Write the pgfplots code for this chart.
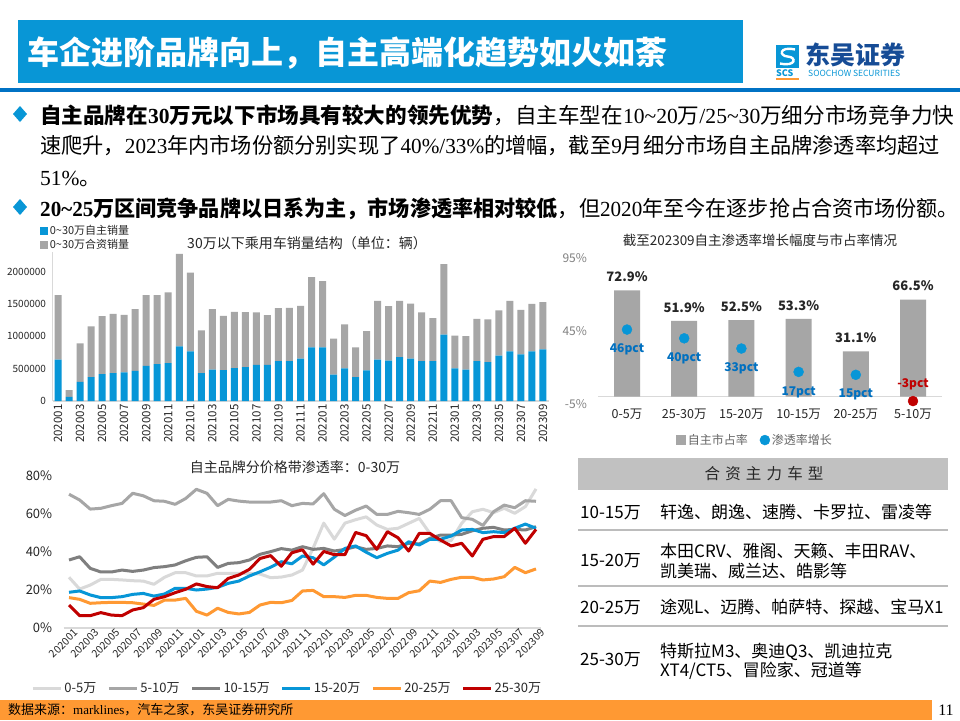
\documentclass[border=0pt]{standalone}
\usepackage{fontspec}
\setmainfont{Noto Sans CJK SC}
\newfontfamily\serif{Liberation Serif}
\usepackage{graphicx}
\usepackage{pgfplots}
\usepackage{pgfplotstable}
\pgfplotsset{compat=1.18}
\pgfplotsset{/pgf/number format/assume math mode=true}
\newcommand{\fs}[1]{\fontsize{#1}{#1}\selectfont}
\newcommand{\sn}[1]{{\serif #1}}
\definecolor{titleblue}{RGB}{8,150,214}
\definecolor{lineblue}{RGB}{0,114,196}
\definecolor{cblue}{RGB}{7,150,215}
\definecolor{cgray}{RGB}{166,166,166}
\definecolor{lgray}{RGB}{217,217,217}
\definecolor{dgray}{RGB}{127,127,127}
\definecolor{corange}{RGB}{255,153,51}
\definecolor{cred}{RGB}{192,0,0}
\definecolor{pblue}{RGB}{0,112,192}
\definecolor{txt}{RGB}{38,38,38}
\definecolor{axisgray}{RGB}{217,217,217}
\definecolor{logodark}{RGB}{22,76,150}
\definecolor{band}{RGB}{255,153,51}

\pgfplotstableread{
i blue gray
0 641000 995000
1 62000 107000
2 297000 595000
3 369000 785000
4 415000 898000
5 431000 918000
6 441000 892000
7 467000 954000
8 544000 1092000
9 569000 1067000
10 585000 1097000
11 846000 1431000
12 769000 1216000
13 431000 661000
14 487000 934000
15 477000 841000
16 508000 871000
17 523000 851000
18 559000 810000
19 559000 769000
20 615000 821000
21 615000 826000
22 656000 816000
23 831000 1087000
24 831000 1025000
25 410000 554000
26 503000 682000
27 369000 462000
28 472000 610000
29 641000 908000
30 626000 841000
31 677000 872000
32 656000 852000
33 615000 754000
34 615000 667000
35 1026000 1092000
36 503000 507000
37 487000 518000
38 615000 657000
39 600000 662000
40 703000 697000
41 769000 780000
42 723000 687000
43 769000 734000
44 800000 728000
}\bardata

\pgfplotstableread{
i c0 c1 c2 c3 c4 c5
0 26.7 70.4 35.8 18.8 16.0 12.1
1 20.5 67.4 37.5 19.5 15.1 6.5
2 22.6 62.6 31.4 17.4 13.0 6.5
3 25.6 63.0 29.5 16.0 13.3 8.1
4 25.6 64.4 29.5 16.0 13.5 6.8
5 25.3 65.6 30.5 16.5 13.5 6.5
6 24.9 70.9 29.8 17.7 13.3 9.5
7 24.7 69.6 30.5 18.2 12.6 10.7
8 23.0 67.0 31.8 16.8 11.9 15.1
9 26.7 66.7 32.3 17.9 14.7 16.5
10 29.1 65.1 33.2 20.9 14.7 18.6
11 29.1 68.2 35.4 20.9 15.6 20.4
12 27.4 73.0 37.2 20.0 8.8 23.2
13 27.4 70.9 37.5 20.5 6.8 21.8
14 28.8 64.4 31.9 21.4 10.4 21.2
15 28.8 67.7 34.0 23.5 8.2 26.1
16 28.8 66.8 34.4 24.7 7.4 27.9
17 28.8 66.3 35.8 27.4 8.2 30.9
18 28.4 66.3 38.8 29.6 12.1 36.6
19 26.5 66.3 40.2 32.0 13.5 38.1
20 26.8 67.0 41.8 34.9 13.3 32.5
21 27.9 64.4 41.0 33.8 14.5 39.6
22 30.5 65.6 42.8 37.9 19.5 41.2
23 42.0 65.3 41.4 37.0 19.8 33.6
24 55.2 70.7 41.9 33.2 16.5 40.3
25 46.8 62.5 40.5 37.3 16.5 38.6
26 55.2 59.2 41.4 41.9 16.1 38.6
27 57.0 62.0 42.8 43.2 17.2 50.3
28 58.5 64.2 41.4 39.9 17.2 48.6
29 54.2 59.8 41.9 37.0 16.1 41.4
30 51.9 59.8 43.2 39.3 15.6 50.7
31 52.5 61.4 42.8 41.0 15.6 47.5
32 55.1 60.7 44.6 45.4 18.6 40.5
33 57.7 59.8 44.2 43.7 19.6 49.8
34 49.8 62.5 47.2 46.7 24.7 49.8
35 45.4 67.0 48.9 46.7 24.0 46.3
36 46.0 67.0 48.9 48.4 25.6 43.2
37 55.1 58.1 49.3 51.6 26.7 44.6
38 61.2 57.2 51.2 51.9 26.7 37.9
39 62.5 54.0 52.5 50.2 25.3 46.7
40 60.7 61.2 53.0 50.7 25.8 48.1
41 63.0 64.7 51.6 50.2 27.0 48.1
42 60.4 63.3 51.9 52.5 31.9 52.5
43 63.9 67.0 51.6 54.7 29.1 44.6
44 73.2 66.7 53.3 52.5 31.1 51.9
}\linedata

\pgfplotstableread{
x y lab
0 46 46pct
1 40 40pct
2 33 33pct
3 17 17pct
4 15 15pct
}\dotsblue

\begin{document}
\begin{tikzpicture}
\begin{scope}[x=1pt,y=-1pt]
 \fill[white] (0,0) rectangle (960,720);
 % title
 \fill[titleblue] (18,20) rectangle (743,83);
 \node[anchor=base west, text=white, font=\fs{32}\bfseries, inner sep=0] at (27,64) {车企进阶品牌向上，自主高端化趋势如火如荼};
 \fill[lineblue] (0,88) rectangle (960,91.5);
 % logo
 \fill[titleblue] (776,45) rectangle (799,68);
 \draw[white, line width=2.4pt] (795,49.5) .. controls (779,46) and (779,56) .. (787.5,56.5) .. controls (797,57) and (796,67) .. (780,63.5);
 \node[anchor=base west, font=\fs{9}\bfseries, text=titleblue, inner sep=0] at (776,76) {SCS};
 \fill[band] (776,77.5) rectangle (799,80);
 \node[anchor=base west, font=\fs{25}\bfseries, text=logodark, inner sep=0] at (805,64) {东吴证券};
 \node[anchor=base west, font=\fs{8.5}, text=titleblue, inner sep=0] at (808,76) {SOOCHOW SECURITIES};
 % bullets
 \fill[titleblue] (20,106) -- (27,114) -- (20,122) -- (13,114) -- cycle;
 \fill[titleblue] (20,199) -- (27,207) -- (20,215) -- (13,207) -- cycle;
 \node[anchor=base west, font=\fs{21.5}, inner sep=0] at (40,123) {\scalebox{1.004}[1]{{\bfseries 自主品牌在\sn{30}万元以下市场具有较大的领先优势}，自主车型在\sn{10\textasciitilde20}万\sn{/25\textasciitilde30}万细分市场竞争力快}};
 \node[anchor=base west, font=\fs{21.5}, inner sep=0] at (40,153.5) {\scalebox{0.986}[1]{速爬升，\sn{2023}年内市场份额分别实现了\sn{40\%/33\%}的增幅，截至\sn{9}月细分市场自主品牌渗透率均超过}};
 \node[anchor=base west, font=\fs{21.5}, inner sep=0] at (40,185) {\sn{51\%}。};
 \node[anchor=base west, font=\fs{21.5}, inner sep=0] at (40,216) {\scalebox{0.982}[1]{{\bfseries \sn{20\textasciitilde25}万区间竞争品牌以日系为主，市场渗透率相对较低}，但\sn{2020}年至今在逐步抢占合资市场份额。}};
 % chart titles
 \node[font=\fs{14}, text=txt] at (307,243) {30万以下乘用车销量结构（单位：辆）};
 \node[font=\fs{13.5}, text=txt] at (760,240) {截至202309自主渗透率增长幅度与市占率情况};
 \node[font=\fs{14}, text=txt] at (295,467) {自主品牌分价格带渗透率：0-30万};
 % table
 \fill[cgray!70] (578,458) rectangle (948,490);
 \node[font=\fs{15.5}, text=txt] at (764,474) {合\,\,资\,\,主\,\,力\,\,车\,\,型};
 \foreach \yy in {530,586,626} {\fill[cgray!75] (578,\yy-1) rectangle (948,\yy+1);}
 \begin{scope}[every node/.style={anchor=base west, font=\fs{17}, inner sep=0, text=black}]
 \node at (580,518) {10-15万};
 \node at (660,518) {轩逸、朗逸、速腾、卡罗拉、雷凌等};
 \node at (580,566) {15-20万};
 \node at (660,557) {本田CRV、雅阁、天籁、丰田RAV、};
 \node at (660,577) {凯美瑞、威兰达、皓影等};
 \node at (580,613) {20-25万};
 \node at (660,613) {途观L、迈腾、帕萨特、探越、宝马X1};
 \node at (580,665) {25-30万};
 \node at (660,657) {特斯拉M3、奥迪Q3、凯迪拉克};
 \node at (660,676) {XT4/CT5、冒险家、冠道等};
 \end{scope}
 % footer
 \fill[band] (0,700) rectangle (932,720);
 \node[anchor=base west, font=\fs{13}, inner sep=0] at (8,714) {数据来源：\sn{marklines}，汽车之家，东吴证券研究所};
 \node[anchor=base, font=\fs{16}\serif, inner sep=0] at (946,715) {11};
\end{scope}

% ---------- chart 1: stacked bars ----------
\begin{axis}[
 at={(52.5pt,-401pt)}, anchor=south west, scale only axis,
 width=496pt, height=148.7pt,
 xmin=-0.5, xmax=44.5, ymin=0, ymax=2300000,
 ybar stacked, bar width=7pt,
 axis x line*=bottom, axis y line*=left,
 axis line style={draw=axisgray, line width=1.3pt, -},
 major tick length=0pt,
 xtick={0,2,...,44},
 xticklabels={202001,202003,202005,202007,202009,202011,202101,202103,202105,202107,202109,202111,202201,202203,202205,202207,202209,202211,202301,202303,202305,202307,202309},
 x tick label style={rotate=90, anchor=east, font=\fs{11.5}, text=txt, xshift=0pt},
 ytick={0,500000,1000000,1500000,2000000}, scaled y ticks=false,
 y tick label style={/pgf/number format/fixed, /pgf/number format/1000 sep={}, font=\fs{10}, text=txt, xshift=-3pt},
 legend style={at={(-0.026,1.195)}, anchor=north west, draw=none, fill=none, font=\fs{11}, text=txt, inner sep=0pt, row sep=-1pt, legend cell align=left},
 legend image code/.code={\fill[#1] (0pt,-4pt) rectangle (8pt,4pt);},
]
\addplot[fill=cblue, draw=none] table[x=i, y=blue] {\bardata};
\addplot[fill=cgray, draw=none] table[x=i, y=gray] {\bardata};
\legend{0\textasciitilde30万自主销量, 0\textasciitilde30万合资销量}
\end{axis}

% ---------- chart 2: bars + dots ----------
\begin{axis}[
 at={(598.4pt,-404pt)}, anchor=south west, scale only axis,
 width=343.2pt, height=146pt,
 xmin=-0.5, xmax=5.5, ymin=-5, ymax=95,
 axis x line*=bottom, axis y line*=left,
 x axis line style={draw=none}, y axis line style={draw=none},
 major tick length=0pt,
 xtick={0,...,5},
 xticklabels={0-5万,25-30万,15-20万,10-15万,20-25万,5-10万},
 x tick label style={font=\fs{12.5}, text=txt, yshift=-1pt},
 ytick={-5,45,95}, yticklabels={-5\%,45\%,95\%},
 y tick label style={font=\fs{12}, text=gray, xshift=-8pt},
 extra y ticks={0}, extra y tick labels={},
 extra y tick style={grid=major, major grid style={draw=axisgray, line width=1.3pt}},
 legend style={at={(0.456,-0.247)}, anchor=center, draw=none, fill=none, legend columns=2, font=\fs{12}, text=gray!80!black, /tikz/every even column/.append style={column sep=10pt}},
]
\addplot[ybar, bar width=26pt, fill=cgray, draw=none, point meta=y,
  nodes near coords={\pgfmathprintnumber[fixed,fixed zerofill,precision=1]{\pgfplotspointmeta}\%},
  nodes near coords style={font=\fs{13}\bfseries, text=txt, anchor=south, yshift=5pt},
  legend image code/.code={\fill[cgray] (0pt,-5pt) rectangle (10pt,5pt);}]
  coordinates {(0,72.9) (1,51.9) (2,52.5) (3,53.3) (4,31.1) (5,66.5)};
\addplot[only marks, mark=*, mark size=5pt, color=cblue, point meta=explicit symbolic,
  nodes near coords={\pgfplotspointmeta},
  nodes near coords style={font=\fs{12}\bfseries, text=pblue, anchor=center, yshift=-20pt}]
  table[x=x, y=y, meta=lab] {\dotsblue};
\addplot[only marks, mark=*, mark size=5pt, color=cred, forget plot, point meta=explicit symbolic,
  nodes near coords={\pgfplotspointmeta},
  nodes near coords style={font=\fs{12}\bfseries, text=cred, anchor=center, yshift=17pt}]
  coordinates {(5,-3) [-3pct]};
\legend{自主市占率, 渗透率增长}
\end{axis}

% ---------- chart 3: lines ----------
\begin{axis}[
 at={(63.7pt,-628pt)}, anchor=south west, scale only axis,
 width=477.6pt, height=152pt,
 xmin=-0.5, xmax=44.5, ymin=0, ymax=80,
 axis x line*=bottom, axis y line*=left,
 x axis line style={draw=axisgray, line width=1.3pt, -},
 y axis line style={draw=none},
 major tick length=0pt,
 xtick={0,2,...,44},
 xticklabels={202001,202003,202005,202007,202009,202011,202101,202103,202105,202107,202109,202111,202201,202203,202205,202207,202209,202211,202301,202303,202305,202307,202309},
 x tick label style={rotate=45, anchor=north east, font=\fs{10.5}, text=txt, xshift=4pt, yshift=-2pt, inner sep=1pt},
 ytick={0,20,40,60,80},
 yticklabel={\pgfmathprintnumber{\tick}\%},
 y tick label style={font=\fs{13}, text=txt, xshift=-8pt},
 legend style={at={(0.468,-0.395)}, anchor=center, draw=none, fill=none, legend columns=6, font=\fs{13}, text=txt, /tikz/every even column/.append style={column sep=9pt}},
 legend image code/.code={\draw[#1, line width=3pt] (0pt,0pt) -- (28pt,0pt);},
 every axis plot/.append style={line width=3pt, line join=round},
]
\addplot[lgray] table[x=i, y=c0] {\linedata};
\addplot[cgray] table[x=i, y=c1] {\linedata};
\addplot[dgray] table[x=i, y=c2] {\linedata};
\addplot[cblue] table[x=i, y=c3] {\linedata};
\addplot[corange] table[x=i, y=c4] {\linedata};
\addplot[cred] table[x=i, y=c5] {\linedata};
\legend{0-5万, 5-10万, 10-15万, 15-20万, 20-25万, 25-30万}
\end{axis}

\pgfresetboundingbox
\useasboundingbox (0pt,0pt) rectangle (960pt,-720pt);
\end{tikzpicture}
\end{document}
